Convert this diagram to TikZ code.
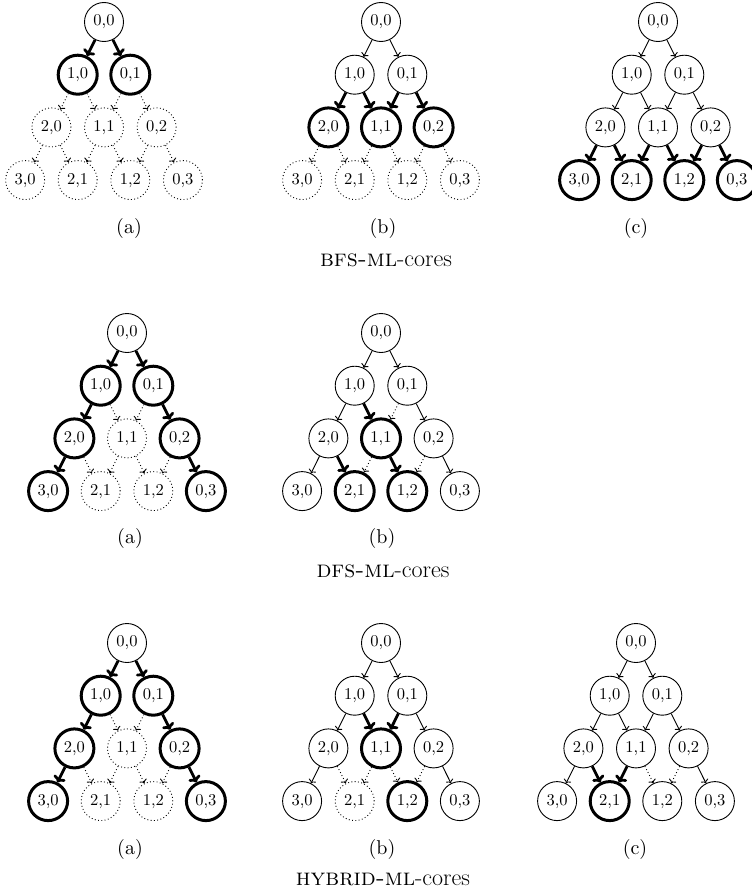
\documentclass[tikz,border=0pt]{standalone}
\usetikzlibrary{arrows.meta}
\newcommand\nlab[1]{\scalebox{1.65}{#1}}
\newcommand\slab[1]{\scalebox{2.0}{#1}}
\begin{document}
\begin{tikzpicture}[x=1pt,y=-1pt,
  nd/.style={circle, draw, line width=0.9pt, minimum size=39pt, inner sep=0pt,
    font=\fontsize{10}{12}\selectfont},
  hi/.style={line width=3pt},
  dim/.style={dash pattern=on 0.9pt off 2.4pt},
  ed/.style={line width=0.9pt, -{To[length=3.5pt,width=8pt]}},
  edhi/.style={line width=2.8pt, -{To[length=6pt,width=13pt]}},
  eddim/.style={line width=0.9pt, dash pattern=on 0.9pt off 2.4pt},
  lab/.style={anchor=base, inner sep=0pt, font=\fontsize{10}{12}\selectfont},
  ttl/.style={anchor=base, inner sep=0pt, font=\fontsize{24}{24}\selectfont}]
\useasboundingbox (0,0) rectangle (752,894);

\newcommand\drawtree[3]{%
  \foreach \rr in {0,...,3}{
    \foreach \tj in {0,...,\rr}{
      \pgfmathtruncatemacro\ti{\rr-\tj}
      \node[nd, n-\ti-\tj/.try] (#1-\ti-\tj) at ({#2+(\tj-\ti)*26.3},{#3+\rr*52.7}) {\nlab{\ti,\tj}};
    }
  }
  \foreach \rr in {0,1,2}{
    \foreach \tj in {0,...,\rr}{
      \pgfmathtruncatemacro\ti{\rr-\tj}
      \pgfmathtruncatemacro\tii{\ti+1}
      \pgfmathtruncatemacro\tjj{\tj+1}
      \draw[ed, e-\ti-\tj-L/.try] (#1-\ti-\tj) -- (#1-\tii-\tj);
      \draw[ed, e-\ti-\tj-R/.try] (#1-\ti-\tj) -- (#1-\ti-\tjj);
    }
  }
}

% ---------------- BFS ----------------
\begin{scope}[n-1-0/.style=hi, n-0-1/.style=hi,
  n-2-0/.style=dim, n-1-1/.style=dim, n-0-2/.style=dim,
  n-3-0/.style=dim, n-2-1/.style=dim, n-1-2/.style=dim, n-0-3/.style=dim,
  e-0-0-L/.style=edhi, e-0-0-R/.style=edhi,
  e-1-0-L/.style=eddim, e-1-0-R/.style=eddim, e-0-1-L/.style=eddim, e-0-1-R/.style=eddim,
  e-2-0-L/.style=eddim, e-2-0-R/.style=eddim, e-1-1-L/.style=eddim, e-1-1-R/.style=eddim,
  e-0-2-L/.style=eddim, e-0-2-R/.style=eddim]
\drawtree{ba}{104}{22}
\end{scope}
\begin{scope}[n-2-0/.style=hi, n-1-1/.style=hi, n-0-2/.style=hi,
  n-3-0/.style=dim, n-2-1/.style=dim, n-1-2/.style=dim, n-0-3/.style=dim,
  e-1-0-L/.style=edhi, e-1-0-R/.style=edhi, e-0-1-L/.style=edhi, e-0-1-R/.style=edhi,
  e-2-0-L/.style=eddim, e-2-0-R/.style=eddim, e-1-1-L/.style=eddim, e-1-1-R/.style=eddim,
  e-0-2-L/.style=eddim, e-0-2-R/.style=eddim]
\drawtree{bb}{381}{22}
\end{scope}
\begin{scope}[n-3-0/.style=hi, n-2-1/.style=hi, n-1-2/.style=hi, n-0-3/.style=hi,
  e-2-0-L/.style=edhi, e-2-0-R/.style=edhi, e-1-1-L/.style=edhi, e-1-1-R/.style=edhi,
  e-0-2-L/.style=edhi, e-0-2-R/.style=edhi]
\drawtree{bc}{658}{22}
\end{scope}
\node[lab] (bla) at (129,233) {\slab{(a)}};
\node[lab] (blb) at (383,233) {\slab{(b)}};
\node[lab] (blc) at (636,233) {\slab{(c)}};
\node[ttl] (bt) at (386,266) {\textsc{bfs-ml}-cores};

% ---------------- DFS ----------------
\begin{scope}[n-1-0/.style=hi, n-0-1/.style=hi, n-2-0/.style=hi, n-0-2/.style=hi,
  n-3-0/.style=hi, n-0-3/.style=hi,
  n-1-1/.style=dim, n-2-1/.style=dim, n-1-2/.style=dim,
  e-0-0-L/.style=edhi, e-0-0-R/.style=edhi, e-1-0-L/.style=edhi, e-0-1-R/.style=edhi,
  e-2-0-L/.style=edhi, e-0-2-R/.style=edhi,
  e-1-0-R/.style=eddim, e-0-1-L/.style=eddim, e-2-0-R/.style=eddim,
  e-1-1-L/.style=eddim, e-1-1-R/.style=eddim, e-0-2-L/.style=eddim]
\drawtree{da}{127}{333}
\end{scope}
\begin{scope}[n-1-1/.style=hi, n-2-1/.style=hi, n-1-2/.style=hi,
  e-1-0-R/.style=edhi, e-2-0-R/.style=edhi, e-1-1-R/.style=edhi,
  e-0-1-L/.style=eddim, e-1-1-L/.style=eddim, e-0-2-L/.style=eddim]
\drawtree{db}{381}{333}
\end{scope}
\node[lab] (dla) at (130,543) {\slab{(a)}};
\node[lab] (dlb) at (382,543) {\slab{(b)}};
\node[ttl] (dt) at (383,577) {\textsc{dfs-ml}-cores};

% ---------------- HYBRID ----------------
\begin{scope}[n-1-0/.style=hi, n-0-1/.style=hi, n-2-0/.style=hi, n-0-2/.style=hi,
  n-3-0/.style=hi, n-0-3/.style=hi,
  n-1-1/.style=dim, n-2-1/.style=dim, n-1-2/.style=dim,
  e-0-0-L/.style=edhi, e-0-0-R/.style=edhi, e-1-0-L/.style=edhi, e-0-1-R/.style=edhi,
  e-2-0-L/.style=edhi, e-0-2-R/.style=edhi,
  e-1-0-R/.style=eddim, e-0-1-L/.style=eddim, e-2-0-R/.style=eddim,
  e-1-1-L/.style=eddim, e-1-1-R/.style=eddim, e-0-2-L/.style=eddim]
\drawtree{ha}{127}{643}
\end{scope}
\begin{scope}[n-1-1/.style=hi, n-1-2/.style=hi, n-2-1/.style=dim,
  e-1-0-R/.style=edhi, e-0-1-L/.style=edhi,
  e-2-0-R/.style=eddim, e-1-1-L/.style=eddim, e-1-1-R/.style=eddim, e-0-2-L/.style=eddim]
\drawtree{hb}{381}{643}
\end{scope}
\begin{scope}[n-2-1/.style=hi,
  e-2-0-R/.style=edhi, e-1-1-L/.style=edhi,
  e-1-1-R/.style=eddim, e-0-2-L/.style=eddim]
\drawtree{hc}{636}{643}
\end{scope}
\node[lab] (hla) at (130,854) {\slab{(a)}};
\node[lab] (hlb) at (382,854) {\slab{(b)}};
\node[lab] (hlc) at (635,854) {\slab{(c)}};
\node[ttl] (ht) at (383,885) {\textsc{hybrid-ml}-cores};
\end{tikzpicture}
\end{document}
